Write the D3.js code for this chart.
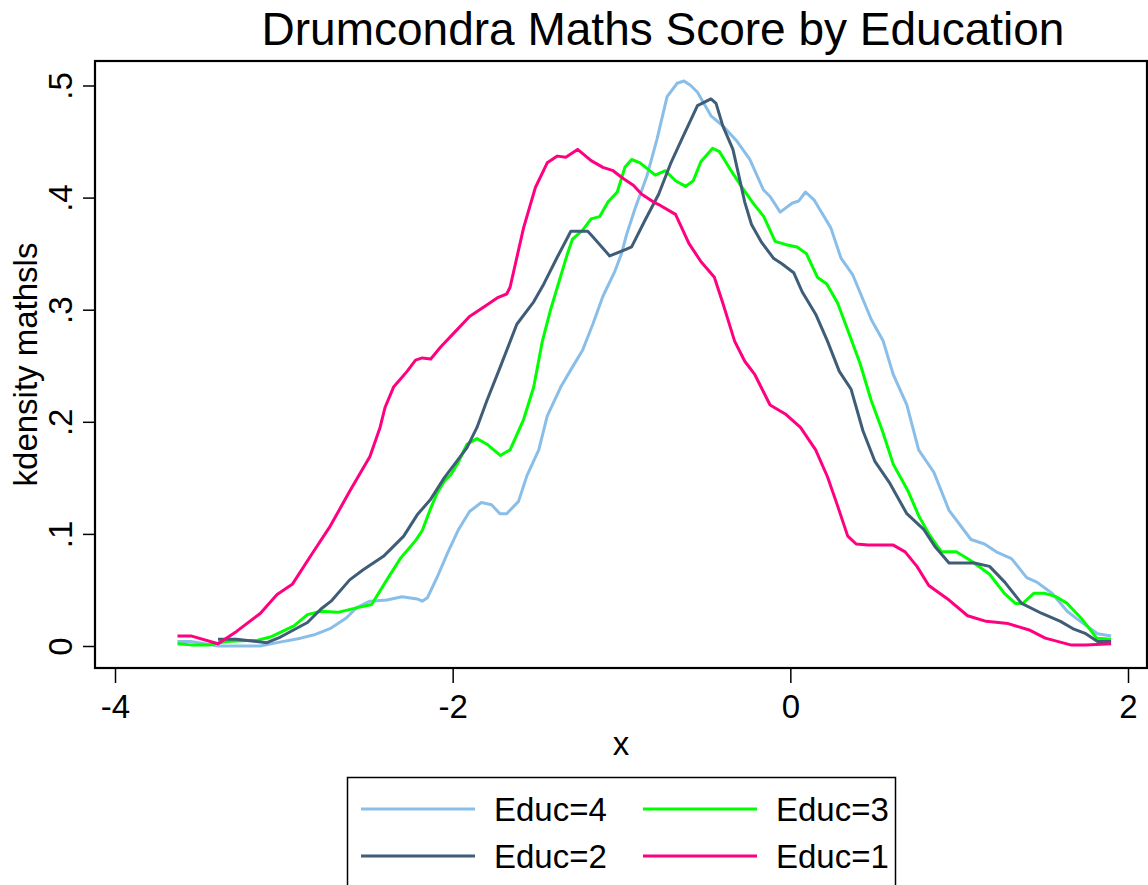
<!DOCTYPE html>
<html>
<head>
<meta charset="utf-8">
<script src="https://cdn.jsdelivr.net/npm/d3@7"></script>
<style>
  body { margin: 0; background: #fff; }
  svg text { font-family: "Liberation Sans", Arial, Helvetica, sans-serif; fill: #000; }
</style>
</head>
<body>
<svg id="chart" width="1148" height="885"></svg>
<script>
/*
Data
*/

var title = "Drumcondra Maths Score by Education";
var xLabel = "x";
var yLabel = "kdensity mathsls";

var xTicks = [-4, -2, 0, 2];
var yTicks = [0, 0.1, 0.2, 0.3, 0.4, 0.5];
var yTickLabels = ["0", ".1", ".2", ".3", ".4", ".5"];

var seriesNames  = ["Educ=4", "Educ=3", "Educ=2", "Educ=1"];
var seriesColors = ["#89bee9", "#00ff00", "#3f5d77", "#ff0080"];

// [x, density]
var educ4 = [[-3.63,0.004],[-3.55,0.004],[-3.39,0.000],[-3.14,0.000],[-3.04,0.003],[-2.90,0.007],[-2.82,0.010],
  [-2.72,0.016],[-2.63,0.025],[-2.57,0.034],[-2.49,0.040],[-2.39,0.041],[-2.30,0.044],[-2.21,0.042],[-2.18,0.040],
  [-2.15,0.043],[-2.09,0.062],[-2.03,0.083],[-1.965,0.104],[-1.90,0.120],[-1.83,0.128],[-1.77,0.126],[-1.72,0.118],
  [-1.68,0.118],[-1.61,0.129],[-1.56,0.152],[-1.49,0.175],[-1.44,0.205],[-1.36,0.231],[-1.29,0.249],[-1.23,0.264],
  [-1.17,0.287],[-1.11,0.312],[-1.04,0.334],[-1.00,0.350],[-0.97,0.367],[-0.92,0.390],[-0.85,0.419],[-0.79,0.452],
  [-0.73,0.490],[-0.67,0.502],[-0.63,0.504],[-0.59,0.500],[-0.55,0.494],[-0.47,0.473],[-0.40,0.464],[-0.32,0.451],
  [-0.24,0.434],[-0.16,0.407],[-0.12,0.401],[-0.06,0.387],[0.01,0.395],[0.05,0.397],[0.09,0.405],[0.14,0.398],
  [0.18,0.388],[0.24,0.373],[0.30,0.346],[0.37,0.331],[0.48,0.291],[0.55,0.272],[0.61,0.242],[0.69,0.215],
  [0.76,0.175],[0.85,0.155],[0.94,0.121],[1.07,0.095],[1.15,0.091],[1.22,0.084],[1.31,0.078],[1.40,0.061],
  [1.46,0.057],[1.55,0.047],[1.64,0.031],[1.70,0.024],[1.82,0.011],[1.90,0.009]];

var educ3 = [[-3.63,0.002],[-3.55,0.001],[-3.44,0.001],[-3.34,0.004],[-3.22,0.005],[-3.16,0.005],[-3.08,0.008],
  [-2.94,0.018],[-2.86,0.028],[-2.78,0.031],[-2.68,0.030],[-2.57,0.034],[-2.48,0.037],[-2.39,0.059],[-2.31,0.078],
  [-2.22,0.094],[-2.18,0.103],[-2.13,0.123],[-2.09,0.137],[-2.05,0.147],[-2.01,0.153],[-1.97,0.163],[-1.915,0.180],
  [-1.856,0.185],[-1.797,0.180],[-1.718,0.170],[-1.66,0.175],[-1.58,0.202],[-1.52,0.231],[-1.47,0.271],[-1.42,0.300],
  [-1.37,0.325],[-1.32,0.350],[-1.29,0.363],[-1.23,0.371],[-1.18,0.381],[-1.13,0.383],[-1.08,0.396],[-1.025,0.405],
  [-0.98,0.427],[-0.94,0.434],[-0.89,0.431],[-0.80,0.420],[-0.74,0.424],[-0.68,0.415],[-0.62,0.410],[-0.575,0.415],
  [-0.53,0.432],[-0.46,0.444],[-0.42,0.441],[-0.355,0.425],[-0.29,0.410],[-0.225,0.396],[-0.157,0.383],[-0.09,0.361],
  [-0.025,0.358],[0.04,0.356],[0.095,0.350],[0.16,0.329],[0.216,0.323],[0.28,0.306],[0.347,0.279],[0.413,0.252],
  [0.479,0.219],[0.545,0.192],[0.61,0.162],[0.698,0.138],[0.764,0.115],[0.829,0.098],[0.895,0.084],[0.983,0.084],
  [1.07,0.076],[1.18,0.064],[1.268,0.047],[1.333,0.038],[1.377,0.038],[1.442,0.047],[1.508,0.047],[1.574,0.044],
  [1.64,0.038],[1.727,0.024],[1.815,0.007],[1.90,0.006]];

var educ2 = [[-3.39,0.006],[-3.28,0.006],[-3.16,0.004],[-3.10,0.003],[-3.02,0.008],[-2.86,0.021],[-2.78,0.033],
  [-2.72,0.040],[-2.61,0.059],[-2.53,0.068],[-2.41,0.080],[-2.29,0.098],[-2.21,0.117],[-2.13,0.131],[-2.05,0.150],
  [-1.975,0.165],[-1.915,0.177],[-1.856,0.195],[-1.797,0.219],[-1.718,0.249],[-1.62,0.287],[-1.52,0.307],
  [-1.46,0.323],[-1.38,0.347],[-1.30,0.370],[-1.20,0.370],[-1.17,0.365],[-1.07,0.348],[-0.97,0.354],[-0.94,0.356],
  [-0.86,0.380],[-0.78,0.403],[-0.71,0.430],[-0.64,0.453],[-0.55,0.482],[-0.47,0.488],[-0.44,0.484],[-0.40,0.464],
  [-0.34,0.443],[-0.31,0.423],[-0.27,0.396],[-0.23,0.376],[-0.17,0.360],[-0.10,0.346],[-0.05,0.341],[0.02,0.333],
  [0.07,0.316],[0.15,0.296],[0.22,0.272],[0.29,0.245],[0.36,0.229],[0.43,0.192],[0.50,0.165],[0.59,0.145],
  [0.69,0.118],[0.79,0.104],[0.86,0.088],[0.94,0.074],[1.01,0.074],[1.09,0.074],[1.18,0.071],[1.27,0.057],
  [1.37,0.038],[1.49,0.029],[1.60,0.022],[1.68,0.015],[1.75,0.011],[1.82,0.004],[1.90,0.004]];

var educ1 = [[-3.63,0.009],[-3.55,0.009],[-3.39,0.002],[-3.28,0.013],[-3.14,0.029],[-3.04,0.046],[-2.95,0.055],
  [-2.83,0.083],[-2.725,0.107],[-2.61,0.138],[-2.49,0.169],[-2.43,0.195],[-2.40,0.213],[-2.35,0.231],[-2.27,0.245],
  [-2.22,0.255],[-2.18,0.257],[-2.13,0.256],[-2.07,0.267],[-1.975,0.282],[-1.90,0.294],[-1.80,0.304],[-1.73,0.311],
  [-1.68,0.314],[-1.66,0.320],[-1.58,0.373],[-1.51,0.409],[-1.44,0.431],[-1.38,0.437],[-1.33,0.436],[-1.26,0.443],
  [-1.18,0.433],[-1.11,0.427],[-1.05,0.424],[-0.99,0.417],[-0.93,0.411],[-0.88,0.403],[-0.81,0.396],[-0.77,0.393],
  [-0.68,0.385],[-0.60,0.359],[-0.53,0.343],[-0.45,0.329],[-0.40,0.306],[-0.33,0.272],[-0.27,0.254],[-0.21,0.242],
  [-0.12,0.215],[-0.03,0.207],[0.06,0.195],[0.15,0.175],[0.22,0.151],[0.28,0.125],[0.34,0.098],[0.39,0.091],
  [0.46,0.090],[0.61,0.090],[0.68,0.084],[0.75,0.071],[0.82,0.054],[0.94,0.041],[1.05,0.027],[1.16,0.022],
  [1.29,0.020],[1.42,0.014],[1.51,0.007],[1.66,0.001],[1.75,0.001],[1.90,0.002]];

var seriesData = [educ4, educ3, educ2, educ1];

/*
Prototype
*/

var Kdensity = function (config) {
  return this.__init__(config);
};

Kdensity.prototype = {

  __init__ : function (config) {
    let self = this;

    self.id     = config.id;
    self.width  = config.width;
    self.height = config.height;

    // plot region frame (pixels)
    self.frame = { left: 95, top: 61, right: 1147, bottom: 668 };

    self.x = d3.scaleLinear().domain([-4, 2]).range([115, 1128]);
    self.y = d3.scaleLinear().domain([0, 0.5]).range([646, 85.5]);

    return self;
  },

  update : function () {
    let self = this;
    let f = self.frame;

    self.svg = d3.select(self.id);

    // title
    self.svg.append("text")
      .attr("x", 663)
      .attr("y", 45)
      .attr("text-anchor", "middle")
      .style("font-size", "46px")
      .text(title);

    // curves
    let line = d3.line()
      .x(d => self.x(d[0]))
      .y(d => self.y(d[1]));

    self.svg.append("g")
      .selectAll("path")
      .data(seriesData)
      .enter()
      .append("path")
      .attr("d", line)
      .attr("fill", "none")
      .attr("stroke", (d, i) => seriesColors[i])
      .attr("stroke-width", 3)
      .attr("stroke-linejoin", "round");

    // frame
    self.svg.append("rect")
      .attr("x", f.left)
      .attr("y", f.top)
      .attr("width", f.right - f.left)
      .attr("height", f.bottom - f.top)
      .attr("fill", "none")
      .attr("stroke", "#000")
      .attr("stroke-width", 2.2);

    // x axis
    let xAxis = self.svg.append("g")
      .attr("transform", "translate(0," + f.bottom + ")")
      .call(d3.axisBottom(self.x).tickValues(xTicks).tickSize(15).tickPadding(12).tickFormat(d3.format("d")));
    xAxis.select(".domain").remove();
    xAxis.selectAll("line").attr("stroke", "#000").attr("stroke-width", 1.5);
    xAxis.selectAll("text").style("font-size", "33px").attr("fill", "#000")
      .attr("font-family", null).text(d => d < 0 ? "-" + Math.abs(d) : d);

    self.svg.append("text")
      .attr("x", (f.left + f.right) / 2)
      .attr("y", 755)
      .attr("text-anchor", "middle")
      .style("font-size", "33px")
      .text(xLabel);

    // y axis
    let yAxis = self.svg.append("g")
      .attr("transform", "translate(" + f.left + ",0)")
      .call(d3.axisLeft(self.y).tickValues(yTicks).tickSize(12).tickFormat((d, i) => yTickLabels[i]));
    yAxis.select(".domain").remove();
    yAxis.selectAll("line").attr("stroke", "#000").attr("stroke-width", 1.5);
    yAxis.selectAll("text")
      .style("font-size", "33px")
      .attr("fill", "#000")
      .attr("font-family", null)
      .attr("x", null).attr("dy", null)
      .attr("text-anchor", "middle")
      .attr("transform", "translate(-23,0) rotate(-90)");

    self.svg.append("text")
      .attr("transform", "translate(37," + (f.top + f.bottom) / 2 + ") rotate(-90)")
      .attr("text-anchor", "middle")
      .style("font-size", "33px")
      .text(yLabel);

    // legend
    let legend = self.svg.append("g");
    legend.append("rect")
      .attr("x", 347.5).attr("y", 777.5)
      .attr("width", 548).attr("height", 140)
      .attr("fill", "#fff").attr("stroke", "#000").attr("stroke-width", 1.5);

    let cols = [361, 643];
    let rows = [809, 856];
    let items = legend.selectAll(".item")
      .data(seriesNames)
      .enter()
      .append("g")
      .attr("class", "item")
      .attr("transform", (d, i) => "translate(" + cols[i % 2] + "," + rows[Math.floor(i / 2)] + ")");

    items.append("line")
      .attr("x1", 0).attr("x2", 114)
      .attr("stroke", (d, i) => seriesColors[i])
      .attr("stroke-width", 3.2);

    items.append("text")
      .attr("x", 133)
      .attr("y", 12)
      .style("font-size", "33px")
      .text(d => d);

    return self;
  }

};

new Kdensity({ id: "#chart", width: 1148, height: 885 }).update();
</script>
</body>
</html>
